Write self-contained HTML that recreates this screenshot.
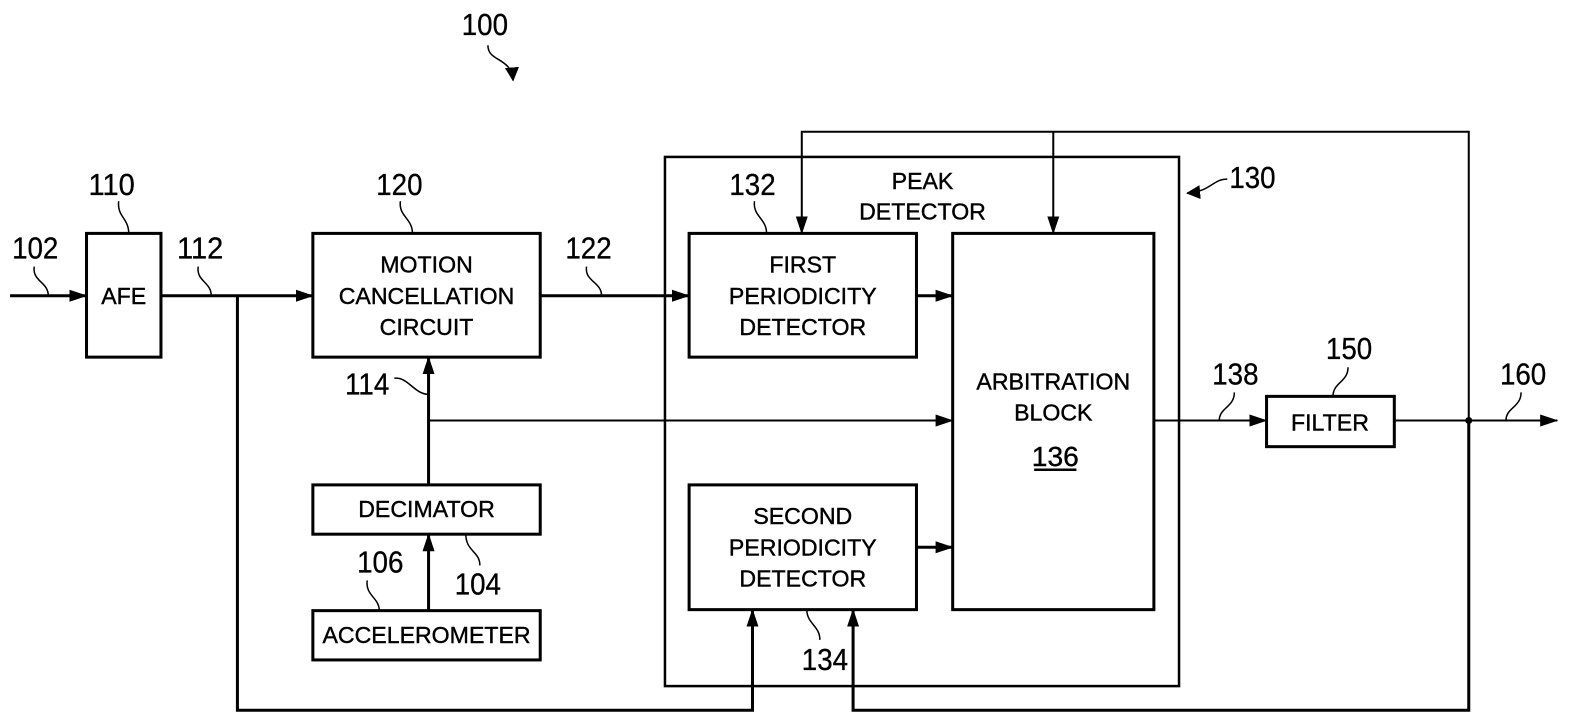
<!DOCTYPE html>
<html><head><meta charset="utf-8"><style>
html,body{margin:0;padding:0;background:#fff;}
svg{display:block;}
text{font-family:"Liberation Sans",Arial,sans-serif;fill:#000;}
.b{font-size:23px;text-anchor:middle;stroke:#000;stroke-width:0.4;}
.n{font-size:30px;stroke:#000;stroke-width:0.3;}
</style></head><body>
<svg width="1577" height="726" viewBox="0 0 1577 726" xmlns="http://www.w3.org/2000/svg">
<defs>
<marker id="a" markerWidth="14" markerHeight="14" refX="13" refY="7" orient="auto" markerUnits="userSpaceOnUse" viewBox="0 0 14 14">
<path d="M0,0 L14,7 L0,14 Z" fill="#000"/></marker>
<marker id="A" markerWidth="18" markerHeight="12" refX="17" refY="6" orient="auto" markerUnits="userSpaceOnUse" viewBox="0 0 18 12">
<path d="M0,0 L18,6 L0,12 Z" fill="#000"/></marker>
</defs>
<g transform="scale(1.006)" stroke="#000" fill="none">
<g stroke-width="3">
<rect x="86" y="232" width="74" height="123"/>
<rect x="311" y="232" width="226" height="123"/>
<rect x="311" y="482" width="226" height="49"/>
<rect x="311" y="607" width="226" height="49"/>
<rect x="685" y="232" width="226" height="123"/>
<rect x="685" y="482" width="226" height="124"/>
<rect x="947" y="232" width="200" height="374"/>
<rect x="1259" y="394" width="127" height="50"/>
</g>
<rect x="661" y="156" width="511" height="526" stroke-width="2.5"/>
<g stroke-width="3">
<line x1="10" y1="294" x2="86" y2="294" marker-end="url(#A)"/>
<line x1="160" y1="294" x2="311" y2="294" marker-end="url(#A)"/>
<line x1="537" y1="294" x2="685" y2="294" marker-end="url(#A)"/>
<line x1="911" y1="294" x2="947" y2="294" marker-end="url(#A)"/>
<line x1="911" y1="544" x2="947" y2="544" marker-end="url(#A)"/>
<line x1="426" y1="482" x2="426" y2="355" marker-end="url(#A)"/>
<line x1="426" y1="607" x2="426" y2="531" marker-end="url(#A)"/>
<polyline points="236,294 236,706 748,706 748,606" marker-end="url(#A)"/>
<polyline points="1460,418 1460,706 848,706 848,606" marker-end="url(#A)"/>
</g>
<g stroke-width="2">
<line x1="426" y1="418" x2="947" y2="418" marker-end="url(#A)"/>
<polyline points="1460,418 1460,131 797,131 797,232" marker-end="url(#A)"/>
<line x1="1047" y1="131" x2="1047" y2="232" marker-end="url(#A)"/>
<line x1="1147" y1="418" x2="1259" y2="418" marker-end="url(#A)"/>
<line x1="1386" y1="418" x2="1548" y2="418" marker-end="url(#A)"/>
</g>
<circle cx="1460" cy="418" r="3.5" fill="#000" stroke="none"/>
<g stroke-width="1.5">
<path d="M34,265 C32,280 48,280 48,294"/>
<path d="M118,200 C116,215 128,217 128,232"/>
<path d="M197,265 C195,280 210,280 210,294"/>
<path d="M398,200 C396,215 410,217 410,232"/>
<path d="M583,265 C581,280 598,280 598,294"/>
<path d="M750,200 C748,215 762,217 762,232"/>
<path d="M392,376 C405,374 412,392 426,392"/>
<path d="M365,577 C363,592 377,594 377,607"/>
<path d="M463,531 C463,548 477,548 477,562"/>
<path d="M802,606 C802,620 815,622 815,636"/>
<path d="M1227,390 C1227,405 1212,405 1212,418"/>
<path d="M1340,365 C1340,380 1325,380 1325,394"/>
<path d="M1512,390 C1512,405 1497,405 1497,418"/>
<path d="M1220,178 C1205,178 1205,190 1180,192" marker-end="url(#a)"/>
<path d="M485,45 C485,62 508,56 510,80" marker-end="url(#a)"/>
</g>
<line x1="1028" y1="467" x2="1070" y2="467" stroke-width="2.5"/>
</g>
<g transform="scale(1.006)">
<text class="b" x="123" y="302">AFE</text>
<text class="b" x="424" y="271">MOTION</text>
<text class="b" x="424" y="302">CANCELLATION</text>
<text class="b" x="424" y="333">CIRCUIT</text>
<text class="b" x="424" y="514">DECIMATOR</text>
<text class="b" x="424" y="639">ACCELEROMETER</text>
<text class="b" x="798" y="271">FIRST</text>
<text class="b" x="798" y="302">PERIODICITY</text>
<text class="b" x="798" y="333">DETECTOR</text>
<text class="b" x="798" y="521">SECOND</text>
<text class="b" x="798" y="552">PERIODICITY</text>
<text class="b" x="798" y="583">DETECTOR</text>
<text class="b" x="1047" y="387">ARBITRATION</text>
<text class="b" x="1047" y="418">BLOCK</text>
<text class="b" x="1049" y="463" style="font-size:28px">136</text>
<text class="b" x="917" y="188">PEAK</text>
<text class="b" x="917" y="218">DETECTOR</text>
<text class="b" x="1322" y="428">FILTER</text>
<text class="n" x="459" y="35" textLength="46" lengthAdjust="spacingAndGlyphs">100</text>
<text class="n" x="88" y="194" textLength="46" lengthAdjust="spacingAndGlyphs">110</text>
<text class="n" x="374" y="194" textLength="46" lengthAdjust="spacingAndGlyphs">120</text>
<text class="n" x="12" y="257" textLength="46" lengthAdjust="spacingAndGlyphs">102</text>
<text class="n" x="176" y="257" textLength="46" lengthAdjust="spacingAndGlyphs">112</text>
<text class="n" x="562" y="257" textLength="46" lengthAdjust="spacingAndGlyphs">122</text>
<text class="n" x="725" y="194" textLength="46" lengthAdjust="spacingAndGlyphs">132</text>
<text class="n" x="1222" y="187" textLength="46" lengthAdjust="spacingAndGlyphs">130</text>
<text class="n" x="343" y="392" textLength="44" lengthAdjust="spacingAndGlyphs">114</text>
<text class="n" x="355" y="569" textLength="46" lengthAdjust="spacingAndGlyphs">106</text>
<text class="n" x="452" y="591" textLength="46" lengthAdjust="spacingAndGlyphs">104</text>
<text class="n" x="797" y="666" textLength="46" lengthAdjust="spacingAndGlyphs">134</text>
<text class="n" x="1205" y="382" textLength="46" lengthAdjust="spacingAndGlyphs">138</text>
<text class="n" x="1318" y="357" textLength="46" lengthAdjust="spacingAndGlyphs">150</text>
<text class="n" x="1491" y="382" textLength="46" lengthAdjust="spacingAndGlyphs">160</text>
</g>
</svg>
</body></html>
